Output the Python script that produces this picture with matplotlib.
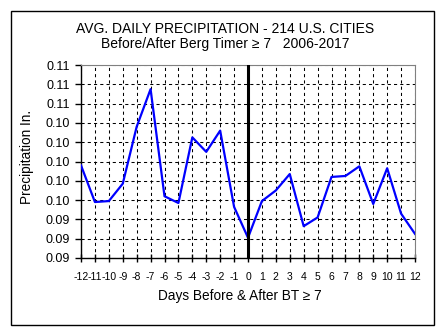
import matplotlib
matplotlib.use('Agg')
import matplotlib.pyplot as plt
from matplotlib.patches import Rectangle

plt.rcParams['font.family'] = ['Liberation Sans', 'DejaVu Sans']

# days before / after BT >= 7
days = list(range(-12, 13))
precip = [0.0996, 0.0958, 0.0959, 0.0977, 0.1036, 0.1075, 0.0964, 0.0957,
          0.1025, 0.1010, 0.1032, 0.0953, 0.0921, 0.0959, 0.0970, 0.0987,
          0.0933, 0.0942, 0.0984, 0.0985, 0.0995, 0.0956, 0.0993, 0.0946,
          0.0925]
yticks = [0.090 + 0.002 * i for i in range(11)]

fig = plt.figure(figsize=(4.4, 3.29), dpi=100)
ax = fig.add_axes([81 / 440, 1 - 258 / 329, 334 / 440, 193 / 329])

ax.plot(days, precip, color='#0000FF', lw=1.6, zorder=3)
ax.axvline(0, color='black', lw=2.2, zorder=4)

ax.set_xlim(-12, 12)
ax.set_ylim(0.090, 0.110)
ax.set_xticks(days)
ax.set_xticklabels([str(d) for d in days], fontsize=7.5)
ax.set_yticks(yticks)
ax.set_yticklabels(['%.2f' % v for v in yticks], fontsize=9)

ax.grid(True, color='black', lw=0.75, linestyle=(0, (3, 3)))
ax.set_axisbelow(True)

for s in ['top', 'right']:
    ax.spines[s].set_color('#808080')
for s in ['left', 'bottom']:
    ax.spines[s].set_color('black')
    ax.spines[s].set_linewidth(1.0)

ax.tick_params(axis='y', direction='out', length=4, width=1, pad=4)
ax.tick_params(axis='x', direction='inout', length=6, width=1, pad=7)

fig.text(225 / 440, 1 - 29 / 329, 'AVG. DAILY PRECIPITATION - 214 U.S. CITIES',
         ha='center', va='center', fontsize=10)
fig.text(225 / 440, 1 - 44 / 329, 'Before/After Berg Timer \u2265 7   2006-2017',
         ha='center', va='center', fontsize=10)
fig.text(240 / 440, 1 - 296 / 329, 'Days Before & After BT \u2265 7',
         ha='center', va='center', fontsize=9.8)
fig.text(27 / 440, 1 - 157 / 329, 'Precipitation In.', rotation=90,
         ha='center', va='center', fontsize=9.8)

fig.patches.append(Rectangle((10.5 / 440, 1 - 324.7 / 329), 423.8 / 440, 314 / 329,
                             transform=fig.transFigure, fill=False,
                             edgecolor='black', lw=1.0))

fig.savefig('out.png', dpi=100)
